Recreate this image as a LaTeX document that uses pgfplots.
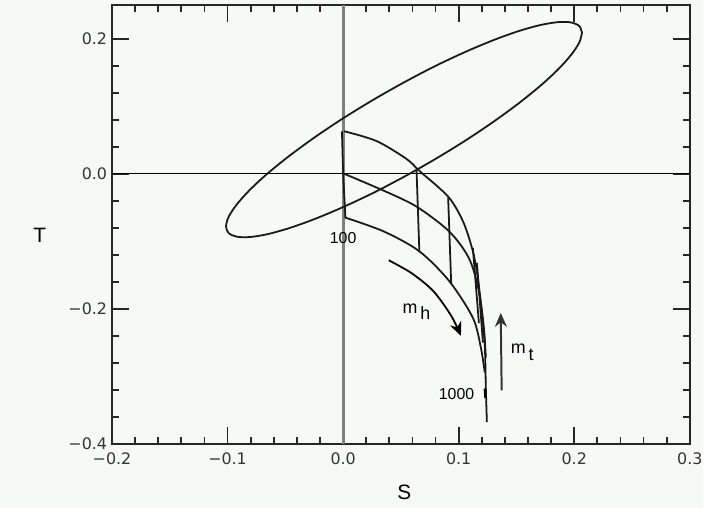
\documentclass[border=0pt]{standalone}
\usepackage{fontspec}
\setmainfont{Liberation Sans}
\newfontfamily\tickfont{DejaVu Sans}
\usepackage{pgfplots}
\pgfplotsset{compat=1.18}
\usetikzlibrary{arrows.meta}
\definecolor{bg}{RGB}{245,250,247}
\begin{document}
\begin{tikzpicture}
\fill[bg] (-56.5pt,-32.5pt) rectangle (298pt,224pt);
\begin{axis}[
    scale only axis,
    width=291.5pt, height=221.5pt,
    xmin=-0.2, xmax=0.3, ymin=-0.4, ymax=0.25,
    xtick={-0.2,-0.1,0,0.1,0.2,0.3},
    xticklabels={−0.2,−0.1,0.0,0.1,0.2,0.3},
    ytick={-0.4,-0.2,0,0.2},
    yticklabels={−0.4,−0.2,0.0,0.2},
    minor x tick num=4, minor y tick num=4,
    major tick length=8.5pt, minor tick length=3.5pt,
    tick style={line width=0.9pt, black!85},
    axis line style={line width=1pt, black!85},
    ticklabel style={font=\tickfont\fontsize{8}{9}\selectfont, text=black!80},
    xticklabel style={yshift=-1pt},
    yticklabel style={xshift=1pt},
    xlabel={S}, ylabel={T},
    label style={font=\fontsize{10.5}{12}\selectfont},
    xlabel style={at={(axis description cs:0.506,0)}, anchor=center, yshift=-24.5pt},
    ylabel style={at={(axis description cs:0,0.476)}, anchor=center, rotate=-90, xshift=-36.5pt},
    clip=false,
]
% reference lines
\addplot[gray, line width=1.4pt] coordinates {(0,-0.4) (0,0.25)};
\addplot[black, line width=0.6pt] coordinates {(-0.2,0) (0.3,0)};
% ellipse
\addplot[black!90, line width=0.9pt, smooth] coordinates {
(0.2067,0.2089) (0.2044,0.2188) (0.1974,0.2241) (0.1861,0.2246) (0.1707,0.2203)
(0.1517,0.2112) (0.1297,0.1977) (0.1054,0.1802) (0.0794,0.1593) (0.0527,0.1354)
(0.0260,0.1095) (0.0000,0.0822) (-0.0243,0.0544) (-0.0463,0.0269) (-0.0653,0.0006)
(-0.0807,-0.0237) (-0.0920,-0.0453) (-0.0990,-0.0635) (-0.1013,-0.0779) (-0.0990,-0.0878)
(-0.0920,-0.0931) (-0.0807,-0.0936) (-0.0653,-0.0893) (-0.0463,-0.0802) (-0.0243,-0.0667)
(0.0000,-0.0492) (0.0260,-0.0283) (0.0527,-0.0044) (0.0794,0.0215) (0.1054,0.0488)
(0.1297,0.0766) (0.1517,0.1041) (0.1707,0.1304) (0.1861,0.1547) (0.1974,0.1763)
(0.2044,0.1945) (0.2067,0.2089)};
% mesh: curves of constant m_t
\addplot[black!90, line width=0.9pt, smooth] coordinates {
(0.001,0.063) (0.029,0.0485) (0.0549,0.022) (0.066,0.0044) (0.0909,-0.0338)
(0.1038,-0.0706) (0.1123,-0.1147) (0.1166,-0.1544) (0.1201,-0.2059) (0.1226,-0.2529)
(0.1235,-0.3162) (0.1244,-0.3676)};
\addplot[black!90, line width=0.9pt, smooth] coordinates {
(0.001,0) (0.0352,-0.025) (0.0635,-0.0485) (0.0918,-0.0853) (0.1089,-0.125)
(0.1175,-0.1735) (0.1218,-0.228) (0.1235,-0.272)};
\addplot[black!90, line width=0.9pt, smooth] coordinates {
(0.0017,-0.0647) (0.0352,-0.0853) (0.066,-0.1147) (0.0918,-0.1588) (0.1123,-0.2132)
(0.1192,-0.2574) (0.1226,-0.294)};
% mesh: lines of constant m_h
\addplot[black!90, line width=0.9pt] coordinates {(-0.001,0.063) (0.0,0.0) (0.002,-0.065)};
\addplot[black!90, line width=0.9pt] coordinates {(0.0635,0.0074) (0.066,-0.116)};
\addplot[black!90, line width=0.9pt] coordinates {(0.0909,-0.035) (0.0935,-0.162)};
\addplot[black!90, line width=0.9pt] coordinates {(0.1123,-0.110) (0.1175,-0.221)};
\addplot[black!90, line width=0.9pt] coordinates {(0.1158,-0.132) (0.121,-0.25)};
\addplot[black, line width=1.2pt] coordinates {(0.1226,-0.318) (0.1232,-0.332)};
% arrows
\addplot[black, line width=0.9pt, smooth, -{Stealth[length=7pt,width=6pt]}] coordinates {
(0.0395,-0.128) (0.0592,-0.147) (0.078,-0.1735) (0.0935,-0.210) (0.102,-0.240)};
\addplot[black!80, line width=1pt, -{Stealth[length=7pt,width=6pt]}] coordinates {
(0.1372,-0.3206) (0.1364,-0.2059)};
% labels
\node[font=\fontsize{8}{9}\selectfont] at (axis cs:0,-0.0956) {100};
\node[font=\fontsize{8}{9}\selectfont, anchor=east] at (axis cs:0.1195,-0.326) {1000};
\node[font=\fontsize{9}{10}\selectfont] at (axis cs:0.0635,-0.204) {m\,\raisebox{-0.7ex}{h}};
\node[font=\fontsize{9}{10}\selectfont] at (axis cs:0.155,-0.264) {m\,\raisebox{-0.7ex}{t}};
\end{axis}
\end{tikzpicture}
\end{document}
